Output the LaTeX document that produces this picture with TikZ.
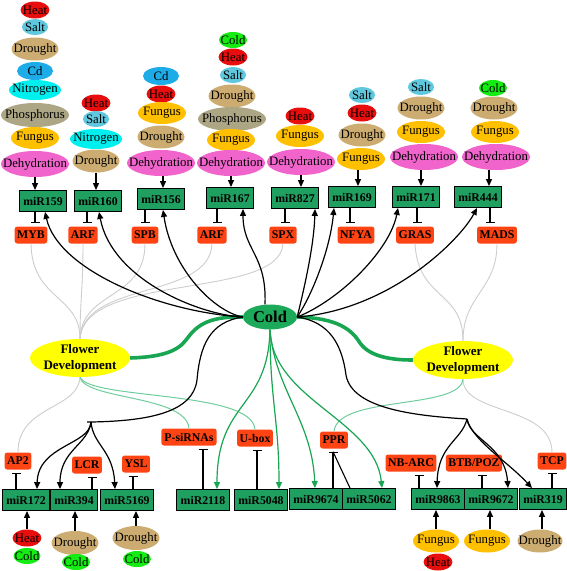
\documentclass[tikz,border=0pt]{standalone}
\usepackage{fontspec}
\setmainfont{Liberation Serif}
\usetikzlibrary{shapes.geometric,arrows.meta,calc}
\definecolor{cHeat}{RGB}{232,14,14}
\definecolor{cSalt}{RGB}{95,200,222}
\definecolor{cDrought}{RGB}{204,172,112}
\definecolor{cCd}{RGB}{30,172,232}
\definecolor{cNitro}{RGB}{0,240,240}
\definecolor{cPhos}{RGB}{172,166,132}
\definecolor{cFungus}{RGB}{255,192,0}
\definecolor{cDehyd}{RGB}{240,100,204}
\definecolor{cColdS}{RGB}{20,236,20}
\definecolor{cMir}{RGB}{32,160,96}
\definecolor{cCold}{RGB}{28,170,90}
\definecolor{cTgt}{RGB}{255,68,20}
\definecolor{cFD}{RGB}{255,255,0}
\definecolor{cGray}{RGB}{205,205,205}
\definecolor{cLG}{RGB}{110,205,155}
\definecolor{cGL}{RGB}{24,166,82}
\newcommand\stx[1]{\hbox to 0pt{\hss#1\hss}}
\begin{document}
\begin{tikzpicture}[x=1pt,y=-1pt,
 stim/.style={ellipse, inner sep=0pt, font=\fontsize{12.8}{13}\selectfont},
 heat/.style={stim, fill=cHeat, minimum width=29pt, minimum height=17pt},
 salt/.style={stim, fill=cSalt, minimum width=26pt, minimum height=16pt},
 drought/.style={stim, fill=cDrought, minimum width=47pt, minimum height=23pt},
 cd/.style={stim, fill=cCd, minimum width=36pt, minimum height=18pt},
 nitro/.style={stim, fill=cNitro, minimum width=52pt, minimum height=20pt},
 phos/.style={stim, fill=cPhos, minimum width=68pt, minimum height=24pt},
 fungus/.style={stim, fill=cFungus, minimum width=48pt, minimum height=22pt},
 dehyd/.style={stim, fill=cDehyd, minimum width=68pt, minimum height=26pt},
 colds/.style={stim, fill=cColdS, minimum width=28pt, minimum height=16pt},
 mir/.style={draw=black, line width=0.9pt, fill=cMir, minimum width=44pt, minimum height=21pt, inner xsep=4pt, inner ysep=0pt, font=\bfseries\fontsize{11.8}{12}\selectfont},
 tgt/.style={fill=cTgt, rounded corners=2.5pt, inner xsep=2.5pt, inner ysep=0pt, minimum height=17pt, font=\bfseries\fontsize{11.8}{12}\selectfont},
 fdnode/.style={ellipse, fill=cFD, minimum width=100pt, minimum height=38pt, inner sep=0pt},
 fdtext/.style={align=center, font=\bfseries\fontsize{13}{16}\selectfont, inner sep=0pt},
 act/.style={-{Triangle[length=7pt,width=6pt]}, line width=1.2pt},
 inh/.style={-{Bar[width=9pt,line width=1.2pt]}, line width=1.1pt},
 greyl/.style={draw=cGray, line width=0.9pt},
 lgl/.style={draw=cLG, line width=1pt},
 gact/.style={act, draw=cGL},
 thickg/.style={draw=cGL, line width=3.6pt}
]
\useasboundingbox (0,0) rectangle (567,571);

% ---------- top stimulus stacks ----------
\node[heat] (s11) at (35,10) {\stx{Heat}};
\node[salt] (s12) at (35,27) {\stx{Salt}};
\node[drought] (s13) at (35,49) {\stx{Drought}};
\node[cd] (s14) at (35,71) {\stx{Cd}};
\node[nitro] (s15) at (35,90) {\stx{Nitrogen}};
\node[phos] (s16) at (35,115) {\stx{Phosphorus}};
\node[fungus] (s17) at (35,138) {\stx{Fungus}};
\node[dehyd] (L1) at (35,164) {\stx{Dehydration}};

\node[heat] (s21) at (96,103) {\stx{Heat}};
\node[salt] (s22) at (96,119) {\stx{Salt}};
\node[nitro] (s23) at (96,139) {\stx{Nitrogen}};
\node[drought] (L2) at (96,161) {\stx{Drought}};

\node[cd] (s31) at (161,76) {\stx{Cd}};
\node[heat] (s32) at (161,94) {\stx{Heat}};
\node[fungus] (s33) at (162,113) {\stx{Fungus}};
\node[drought] (s34) at (161,137) {\stx{Drought}};
\node[dehyd] (L3) at (161,163) {\stx{Dehydration}};

\node[colds] (s41) at (233,40) {\stx{Cold}};
\node[heat] (s42) at (233,57) {\stx{Heat}};
\node[salt] (s43) at (233,75) {\stx{Salt}};
\node[drought] (s44) at (232,96) {\stx{Drought}};
\node[phos] (s45) at (232,119) {\stx{Phosphorus}};
\node[fungus] (s46) at (231,140) {\stx{Fungus}};
\node[dehyd] (L4) at (231,163) {\stx{Dehydration}};

\node[heat] (s51) at (300,116) {\stx{Heat}};
\node[fungus] (s52) at (300,136) {\stx{Fungus}};
\node[dehyd] (L5) at (301,162) {\stx{Dehydration}};

\node[salt] (s61) at (362,95) {\stx{Salt}};
\node[heat] (s62) at (362,113) {\stx{Heat}};
\node[drought] (s63) at (362,135) {\stx{Drought}};
\node[fungus] (L6) at (361,159) {\stx{Fungus}};

\node[salt] (s71) at (421,87) {\stx{Salt}};
\node[drought] (s72) at (421,108) {\stx{Drought}};
\node[fungus] (s73) at (421,132) {\stx{Fungus}};
\node[dehyd] (L7) at (424,157) {\stx{Dehydration}};

\node[colds] (s81) at (493,88) {\stx{Cold}};
\node[drought] (s82) at (494,108) {\stx{Drought}};
\node[fungus] (s83) at (495,132) {\stx{Fungus}};
\node[dehyd] (L8) at (496,157) {\stx{Dehydration}};

% ---------- top miRNA boxes ----------
\node[mir] (m159) at (43,201) {miR159};
\node[mir] (m160) at (98,201) {miR160};
\node[mir] (m156) at (161,199) {miR156};
\node[mir] (m167) at (230,198) {miR167};
\node[mir] (m827) at (295,198) {miR827};
\node[mir] (m169) at (352,197) {miR169};
\node[mir] (m171) at (416,197) {miR171};
\node[mir] (m444) at (478,197) {miR444};

% ---------- top targets ----------
\node[tgt] (tMYB) at (31,235) {MYB};
\node[tgt] (tARF1) at (83,235) {ARF};
\node[tgt] (tSPB) at (145,235) {SPB};
\node[tgt] (tARF2) at (212,235) {ARF};
\node[tgt] (tSPX) at (283,235) {SPX};
\node[tgt] (tNFYA) at (356,235) {NFYA};
\node[tgt] (tGRAS) at (415,235) {GRAS};
\node[tgt] (tMADS) at (497,235) {MADS};

% ---------- central nodes ----------
\node[ellipse, fill=cCold, minimum width=54pt, minimum height=25pt, inner sep=0pt, font=\bfseries\fontsize{16.5}{17}\selectfont] (Cold) at (270,317) {\stx{Cold}};
\node[fdnode] (FD1) at (80,358) {};
\node[fdtext] at (FD1) {Flower\\Development};
\node[fdnode] (FD2) at (463,360) {};
\node[fdtext] at (FD2) {Flower\\Development};
\coordinate (j1) at (91,422);
\coordinate (j2) at (467,419);

% ---------- bottom miRNA boxes ----------
\node[mir, minimum width=46pt] (m172) at (26,500) {miR172};
\node[mir, minimum width=45pt] (m394) at (74,500) {miR394};
\node[mir, minimum width=50pt] (m5169) at (127,500) {miR5169};
\node[mir, minimum width=53pt] (m2118) at (203,500) {miR2118};
\node[mir, minimum width=53pt] (m5048) at (261,500) {miR5048};
\node[mir, minimum width=53pt] (m9674) at (316,499) {miR9674};
\node[mir, minimum width=50pt] (m5062) at (369,499) {miR5062};
\node[mir, minimum width=50pt] (m9863) at (438,499) {miR9863};
\node[mir, minimum width=49pt] (m9672) at (491,499) {miR9672};
\node[mir, minimum width=46pt] (m319) at (543,499) {miR319};

% ---------- bottom targets ----------
\node[tgt] (tAP2) at (18,461) {AP2};
\node[tgt] (tLCR) at (87,465) {LCR};
\node[tgt] (tYSL) at (136,464) {YSL};
\node[tgt, inner xsep=3pt] (tPS) at (189,437) {P-siRNAs};
\node[tgt] (tUB) at (255,438) {U-box};
\node[tgt] (tPPR) at (334,440) {PPR};
\node[tgt] (tNB) at (411,463) {NB-ARC};
\node[tgt] (tBTB) at (474,463) {BTB/POZ};
\node[tgt] (tTCP) at (552,461) {TCP};

% ---------- bottom stimuli ----------
\node[heat] (b11) at (27,538) {\stx{Heat}};
\node[colds, minimum width=27pt] (b12) at (27,556) {\stx{Cold}};
\node[drought, minimum height=24pt] (b21) at (75,543) {\stx{Drought}};
\node[colds] (b22) at (76,562) {\stx{Cold}};
\node[drought, minimum height=24pt] (b31) at (136,538) {\stx{Drought}};
\node[colds] (b32) at (137,559) {\stx{Cold}};
\node[fungus, minimum width=46pt, minimum height=23pt] (b41) at (436,541) {\stx{Fungus}};
\node[heat] (b42) at (438,562) {\stx{Heat}};
\node[fungus, minimum width=46pt, minimum height=23pt] (b51) at (487,541) {\stx{Fungus}};
\node[drought, minimum width=45pt] (b61) at (540,541) {\stx{Drought}};

% ---------- grey lines (targets to flower development) ----------
\draw[greyl] (tMYB.south) .. controls (32,300) and (80,295) .. (FD1.north);
\draw[greyl] (tARF1.south) .. controls (83,290) and (80,300) .. (FD1.north);
\draw[greyl] (tSPB.south) .. controls (145,300) and (82,290) .. (FD1.north);
\draw[greyl] (tARF2.south) .. controls (210,300) and (84,280) .. (FD1.north);
\draw[greyl] (tSPX.south) .. controls (280,300) and (84,272) .. (FD1.north);
\draw[greyl] (tGRAS.south) .. controls (418,300) and (463,290) .. (FD2.north);
\draw[greyl] (tMADS.south) .. controls (497,290) and (463,295) .. (FD2.north);
\draw[greyl] (FD1.south) .. controls (78,410) and (18,405) .. (tAP2.north);
\draw[greyl] (FD2.south) .. controls (463,415) and (552,405) .. (tTCP.north);

% ---------- light green lines ----------
\draw[lgl] (FD1.south) .. controls (85,400) and (186,395) .. (tPS.north);
\draw[lgl] (FD1.south) .. controls (90,400) and (252,390) .. (tUB.north);
\draw[lgl] (FD2.south) .. controls (460,410) and (338,395) .. (tPPR.north);

% ---------- thick green lines ----------
\draw[thickg] (Cold.west) .. controls (205,316) and (195,328) .. (186,340) .. controls (177,352) and (160,357) .. (FD1.east);
\draw[thickg] (Cold.east) .. controls (338,318) and (352,330) .. (360,343) .. controls (370,357) and (392,360) .. (FD2.west);

% ---------- stimulus arrows (top) ----------
\draw[act] (L1.south) -- (L1.south |- m159.north);
\draw[act] (L2.south) -- (L2.south |- m160.north);
\draw[act] ($(L3.south)+(2,0)$) -- ($(L3.south |- m156.north)+(2,0)$);
\draw[act] (L4.south) -- (L4.south |- m167.north);
\draw[act] (L5.south) -- (L5.south |- m827.north);
\draw[act] ($(L6.south)+(-3,0)$) -- ($(L6.south |- m169.north)+(-3,0)$);
\draw[act] ($(L7.south)+(-3,0)$) -- ($(L7.south |- m171.north)+(-3,0)$);
\draw[act] ($(L8.south)+(-7,0)$) -- ($(L8.south |- m444.north)+(-7,0)$);

% ---------- inhibitions (top) ----------
\draw[inh] ($(m159.south)+(-8,0)$) -- ($(tMYB.north)+(4,-3)$);
\draw[inh] ($(m160.south)+(-11,0)$) -- ($(tARF1.north)+(4,-3)$);
\draw[inh] ($(m156.south)+(-16,0)$) -- ($(tSPB.north)+(0,-3)$);
\draw[inh] ($(m167.south)+(-13,0)$) -- ($(tARF2.north)+(5,-3)$);
\draw[inh] ($(m827.south)+(-10,0)$) -- ($(tSPX.north)+(2,-3)$);
\draw[inh] ($(m169.south)+(-2,0)$) -- ($(tNFYA.north)+(-6,-3)$);
\draw[inh] ($(m171.south)+(1,0)$) -- ($(tGRAS.north)+(2,-3)$);
\draw[inh] ($(m444.south)+(12,0)$) -- ($(tMADS.north)+(-7,-3)$);

% ---------- Cold -> top miRNAs ----------
\draw[act] (Cold.west) .. controls (160,312) and (58,270) .. ($(m159.south)+(2,0)$);
\draw[act] (Cold.west) .. controls (200,315) and (112,280) .. ($(m160.south)+(1,0)$);
\draw[act] (Cold.west) .. controls (215,312) and (172,270) .. ($(m156.south)+(2,0)$);
\draw[act] ($(Cold.north)+(-5,0)$) .. controls (267,255) and (243,250) .. ($(m167.south)+(13,0)$);
\draw[act] (Cold.east) .. controls (305,285) and (314,245) .. ($(m827.south)+(20,0)$);
\draw[act] (Cold.east) .. controls (312,295) and (330,250) .. ($(m169.south)+(-18,0)$);
\draw[act] (Cold.east) .. controls (340,300) and (390,250) .. ($(m171.south)+(-18,0)$);
\draw[act] (Cold.east) .. controls (390,310) and (460,240) .. ($(m444.south)+(-1,0)$);

% ---------- Cold -> junctions ----------
\draw[line width=1.2pt] (Cold.west) .. controls (210,322) and (200,345) .. (197,380) .. controls (193,412) and (150,421) .. (j1) -- ++(-4,0);
\draw[line width=1.2pt] (Cold.east) .. controls (330,322) and (342,345) .. (346,375) .. controls (352,410) and (420,416) .. (j2);

% ---------- junction branches ----------
\draw[act] (j1) .. controls (90,445) and (38,445) .. ($(m172.north)+(11,0)$);
\draw[act] (j1) .. controls (88,445) and (60,450) .. ($(m394.north)+(-14,0)$);
\draw[act] (j1) .. controls (93,445) and (113,450) .. ($(m5169.north)+(-12,0)$);
\draw[act] (j2) .. controls (462,440) and (438,445) .. ($(m9863.north)+(-1,0)$);
\draw[act] (j2) .. controls (470,440) and (505,445) .. ($(m9672.north)+(17,0)$);
\draw[act] (j2) .. controls (472,440) and (508,462) .. ($(m319.north)+(-11,0)$);

% ---------- Cold -> bottom green arrows ----------
\draw[gact] (Cold.south) .. controls (268,410) and (217,400) .. ($(m2118.north)+(14,0)$);
\draw[gact] (Cold.south) .. controls (270,400) and (279,420) .. ($(m5048.north)+(18,0)$);
\draw[gact] (Cold.south) .. controls (275,390) and (312,420) .. ($(m9674.north)+(-1,0)$);
\draw[gact] (Cold.south) .. controls (272,400) and (375,420) .. ($(m5062.north)+(13,0)$);

% ---------- inhibitions (bottom) ----------
\draw[inh] ($(m172.north)+(-10,0)$) -- ($(tAP2.south)+(-2,3)$);
\draw[inh] ($(m394.north)+(18,0)$) -- ($(tLCR.south)+(5,3)$);
\draw[inh] ($(m5169.north)+(6,0)$) -- ($(tYSL.south)+(-3,3)$);
\draw[inh] (m2118.north) -- ($(tPS.south)+(14,3)$);
\draw[inh] ($(m5048.north)+(-4,0)$) -- ($(tUB.south)+(2,3)$);
\draw[inh] ($(m9674.north)+(17,0)$) -- ($(tPPR.south)+(-1,3)$);
\draw[line width=1.1pt] ($(m5062.north)+(-19,0)$) -- ($(tPPR.south)+(-1,3)$);
\draw[inh] ($(m9863.north)+(-19,0)$) -- ($(tNB.south)+(8,3)$);
\draw[inh] ($(m9672.north)+(-9,0)$) -- ($(tBTB.south)+(8,3)$);
\draw[inh] ($(m319.north)+(9,0)$) -- ($(tTCP.south)+(0,3)$);

% ---------- stimulus arrows (bottom) ----------
\draw[act] (b11.north) -- (b11.north |- m172.south);
\draw[act] (b21.north) -- (b21.north |- m394.south);
\draw[act] (b31.north) -- (b31.north |- m5169.south);
\draw[act] (b41.north) -- (b41.north |- m9863.south);
\draw[act] ($(b51.north)+(3,0)$) -- ($(b51.north |- m9672.south)+(3,0)$);
\draw[act] ($(b61.north)+(2,0)$) -- ($(b61.north |- m319.south)+(2,0)$);
\end{tikzpicture}
\end{document}
